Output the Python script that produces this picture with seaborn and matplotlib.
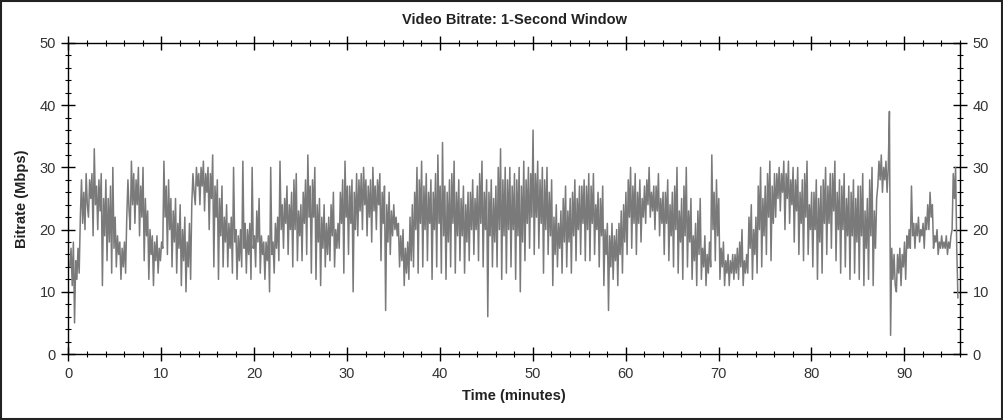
import numpy as np
import pandas as pd
import seaborn as sns
import matplotlib
matplotlib.use("Agg")
import matplotlib.pyplot as plt
from matplotlib.patches import Rectangle
from matplotlib.ticker import MultipleLocator

# Bitrate (Mbps), eight readings per minute
bitrate = [
    14, 17, 11, 18, 5, 15, 12, 17,      13, 22, 28, 21, 26, 20, 29, 24,
    22, 28, 25, 29, 19, 33, 24, 27,     20, 28, 23, 29, 11, 25, 19, 28,
    15, 25, 18, 27, 13, 30, 17, 22,     14, 19, 16, 18, 12, 17, 14, 18,
    13, 22, 28, 23, 20, 31, 24, 29,     21, 28, 24, 30, 19, 27, 22, 30,
    15, 25, 19, 23, 12, 20, 16, 19,     11, 18, 15, 19, 13, 17, 15, 18,
    17, 31, 22, 27, 16, 28, 20, 25,     14, 23, 18, 25, 13, 21, 17, 24,
    11, 20, 15, 22, 10, 18, 14, 21,     12, 24, 29, 26, 24, 30, 27, 29,
    24, 30, 27, 31, 23, 29, 26, 30,     20, 29, 25, 32, 14, 27, 22, 28,
    12, 25, 19, 27, 14, 22, 18, 24,     14, 21, 17, 22, 13, 30, 18, 20,
    12, 19, 15, 20, 14, 31, 17, 21,     13, 20, 16, 21, 12, 30, 17, 19,
    14, 23, 18, 25, 13, 19, 16, 18,     12, 18, 15, 19, 10, 30, 16, 18,
    13, 21, 17, 22, 15, 31, 20, 24,     17, 25, 21, 27, 16, 24, 20, 26,
    14, 28, 20, 29, 15, 23, 19, 24,     15, 26, 21, 28, 16, 32, 22, 27,
    13, 28, 22, 30, 12, 24, 18, 25,     11, 22, 17, 24, 14, 21, 16, 22,
    15, 24, 19, 26, 14, 20, 17, 21,     17, 26, 21, 28, 13, 31, 22, 27,
    16, 27, 21, 28, 10, 26, 20, 29,     19, 28, 23, 29, 20, 30, 24, 28,
    19, 27, 22, 28, 18, 30, 23, 27,     20, 28, 24, 29, 15, 26, 21, 27,
    7, 24, 18, 26, 16, 23, 19, 24,      20, 22, 19, 21, 14, 19, 15, 20,
    11, 17, 13, 18, 12, 22, 15, 24,     14, 26, 20, 30, 13, 28, 21, 31,
    14, 27, 20, 29, 15, 26, 21, 28,     12, 26, 20, 29, 14, 32, 21, 27,
    13, 34, 19, 27, 12, 26, 18, 28,     14, 29, 21, 31, 13, 26, 19, 28,
    15, 25, 19, 27, 13, 24, 18, 26,     15, 26, 20, 28, 16, 25, 20, 27,
    15, 29, 21, 31, 14, 26, 20, 28,     6, 26, 19, 28, 14, 25, 18, 27,
    14, 30, 20, 33, 12, 28, 19, 30,     13, 28, 20, 30, 14, 27, 20, 29,
    12, 28, 19, 30, 10, 27, 18, 31,     15, 28, 21, 30, 17, 29, 22, 36,
    16, 29, 22, 31, 17, 28, 21, 30,     13, 28, 20, 30, 16, 26, 19, 28,
    11, 22, 16, 24, 14, 21, 17, 23,     13, 25, 18, 27, 14, 23, 18, 25,
    13, 26, 19, 28, 15, 25, 20, 27,     16, 27, 21, 28, 15, 27, 20, 29,
    15, 27, 21, 29, 16, 24, 20, 26,     14, 25, 19, 27, 11, 20, 16, 21,
    7, 19, 14, 21, 12, 19, 15, 20,      11, 21, 16, 23, 13, 24, 18, 26,
    16, 28, 22, 30, 17, 27, 21, 29,     16, 26, 21, 28, 18, 25, 22, 27,
    21, 28, 24, 30, 22, 26, 23, 27,     20, 27, 23, 29, 19, 25, 21, 26,
    16, 26, 21, 28, 15, 24, 19, 26,     14, 27, 20, 30, 13, 23, 18, 25,
    12, 27, 19, 30, 14, 23, 18, 25,     12, 19, 15, 21, 11, 23, 16, 25,
    12, 17, 14, 19, 11, 16, 13, 18,     14, 32, 20, 26, 15, 28, 19, 25,
    12, 17, 14, 18, 11, 15, 13, 16,     11, 15, 13, 16, 12, 16, 13, 17,
    12, 18, 14, 20, 11, 15, 13, 16,     13, 22, 17, 24, 12, 20, 16, 22,
    13, 27, 20, 30, 14, 25, 19, 27,     16, 29, 22, 31, 15, 27, 21, 29,
    22, 29, 25, 30, 23, 29, 26, 31,     20, 29, 25, 31, 21, 28, 24, 30,
    18, 28, 23, 30, 16, 26, 21, 28,     15, 29, 22, 31, 16, 24, 20, 26,
    14, 26, 20, 28, 12, 25, 18, 27,     13, 28, 21, 30, 16, 27, 21, 29,
    17, 29, 23, 31, 15, 26, 20, 28,     13, 27, 20, 29, 14, 25, 19, 27,
    12, 26, 19, 28, 13, 25, 18, 27,     12, 27, 19, 29, 11, 23, 17, 25,
    12, 28, 19, 30, 11, 23, 17, 25,     27, 31, 28, 32, 26, 30, 28, 31,
    26, 30, 39, 3, 17, 12, 16, 11,      10, 16, 13, 17, 11, 16, 14, 18,
    12, 19, 17, 20, 17, 27, 19, 21,     17, 21, 19, 22, 18, 20, 19, 21,
    17, 22, 20, 24, 20, 26, 22, 24,     17, 19, 18, 20, 16, 18, 17, 19,
    17, 18, 17, 19, 16, 18, 17, 19,     20, 29, 25, 30, 17, 9,
]
minutes = np.arange(len(bitrate)) * 0.125 + 0.15

title = "Video Bitrate: 1-Second Window"
xlabel = "Time (minutes)"
ylabel = "Bitrate (Mbps)"
x_ticks = [0, 10, 20, 30, 40, 50, 60, 70, 80, 90]
y_ticks = [0, 10, 20, 30, 40, 50]

df = pd.DataFrame({"minutes": minutes, "bitrate": bitrate})

sns.set_style("white")
plt.rcParams["font.family"] = ["Liberation Sans", "DejaVu Sans"]

fig = plt.figure(figsize=(10.04, 4.2), dpi=100)
ax = fig.add_axes([68.5 / 1004, 1 - 354 / 420, (960 - 68.5) / 1004, (354 - 43) / 420])

sns.lineplot(data=df, x="minutes", y="bitrate", ax=ax, color="#7a7a7a",
             linewidth=1.1, estimator=None, errorbar=None)

ax.set_xlim(0, 96)
ax.set_ylim(0, 50)
ax.set_xticks(x_ticks)
ax.set_yticks(y_ticks)
ax.xaxis.set_minor_locator(MultipleLocator(2))
ax.yaxis.set_minor_locator(MultipleLocator(2))
ax.tick_params(axis="both", which="major", direction="inout", length=10, width=1,
               colors="black", labelcolor="#333333", labelsize=10.5,
               left=True, right=True, top=True, bottom=True,
               labelleft=True, labelright=True, labeltop=False, labelbottom=True, pad=4)
ax.tick_params(axis="both", which="minor", direction="inout", length=5, width=0.8,
               colors="black", left=True, right=True, top=True, bottom=True)
for s in ax.spines.values():
    s.set_color("black")
    s.set_linewidth(1)

ax.set_xlabel(xlabel, fontsize=10.5, fontweight="bold", color="#222222", labelpad=6)
ax.set_ylabel(ylabel, fontsize=10.5, fontweight="bold", color="#222222", labelpad=8)
ax.set_title(title, fontsize=10.5, fontweight="bold", color="#222222", pad=14)

fig.patches.append(Rectangle((0.001, 0.002), 0.997, 0.995, transform=fig.transFigure,
                             fill=False, edgecolor="#222222", linewidth=1.5))

fig.savefig("out.png", dpi=100, facecolor="white")
